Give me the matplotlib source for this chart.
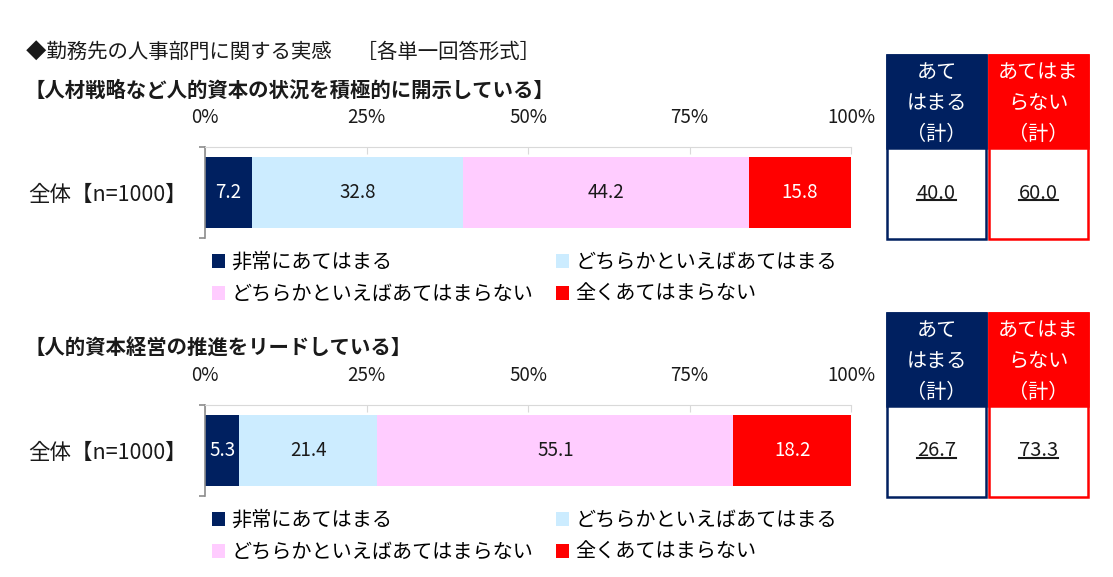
import matplotlib
matplotlib.use('Agg')
import matplotlib.pyplot as plt
from matplotlib.patches import Rectangle, Patch

plt.rcParams['font.family'] = ['Noto Sans CJK JP', 'DejaVu Sans']

W, H = 1113, 577

title = '◆勤務先の人事部門に関する実感　 ［各単一回答形式］'
questions = ['【人材戦略など人的資本の状況を積極的に開示している】',
             '【人的資本経営の推進をリードしている】']
category = '全体【n=1000】'
series_labels = ['非常にあてはまる', 'どちらかといえばあてはまる',
                 'どちらかといえばあてはまらない', '全くあてはまらない']
colors = ['#002060', '#CCECFF', '#FFCCFF', '#FF0000']
text_colors = ['white', '#1a1a1a', '#1a1a1a', 'white']
q1_values = [7.2, 32.8, 44.2, 15.8]
q2_values = [5.3, 21.4, 55.1, 18.2]
ticks = [0, 25, 50, 75, 100]
tick_labels = ['0%', '25%', '50%', '75%', '100%']
box_headers = [['あて', 'はまる', '（計）'], ['あてはま', 'らない', '（計）']]
box_colors = ['#002060', '#FF0000']


def fx(x):
    return x / W


def fy(y):
    return 1 - y / H


fig = plt.figure(figsize=(W / 100, H / 100), dpi=100)

fig.text(fx(26), fy(52), title, fontsize=14.7, va='center', ha='left', color='#1a1a1a')

underlines = []
for i, vals in enumerate([q1_values, q2_values]):
    off = i * 258
    fig.text(fx(25), fy(90 + off), questions[i], fontsize=14.7, fontweight='bold',
             va='center', ha='left', color='#1a1a1a')

    ax = fig.add_axes([fx(205), fy(238 + off), 646 / W, 91 / H])
    left = 0
    for v, c, tc in zip(vals, colors, text_colors):
        ax.barh(0, v, left=left, height=71 / 91, color=c)
        ax.text(left + v / 2, 0, f'{v:.1f}', ha='center', va='center',
                fontsize=13.5, color=tc)
        left += v
    ax.set_xlim(0, 100)
    ax.set_ylim(-0.5, 0.5)
    ax.xaxis.tick_top()
    ax.set_xticks(ticks)
    ax.set_xticklabels(tick_labels)
    ax.tick_params(axis='x', direction='in', length=5, color='#D9D9D9',
                   labelsize=13.5, pad=14, labelcolor='#1a1a1a')
    ax.set_yticks([0])
    ax.set_yticklabels([category])
    ax.tick_params(axis='y', length=0, labelsize=15.5, pad=13, labelcolor='#1a1a1a')
    ax.set_yticks([-0.5, 0.5], minor=True)
    ax.tick_params(axis='y', which='minor', direction='out', length=4.5,
                   color='#8C8C8C', width=1.2)
    for s in ['bottom', 'right']:
        ax.spines[s].set_visible(False)
    ax.spines['top'].set_color('#D9D9D9')
    ax.spines['left'].set_color('#8C8C8C')
    ax.spines['left'].set_linewidth(1.2)

    handles = [Patch(facecolor=c) for c in colors]
    order = [0, 2, 1, 3]
    ax.legend([handles[k] for k in order], [series_labels[k] for k in order],
              ncol=2, loc='upper left', bbox_to_anchor=(fx(212), fy(252 + off)),
              bbox_transform=fig.transFigure, frameon=False, fontsize=14.5,
              handlelength=0.65, handleheight=0.65, handletextpad=0.3,
              columnspacing=1.15, labelspacing=0.55, borderpad=0, borderaxespad=0)

    # summary boxes on the right
    totals = [vals[0] + vals[1], vals[2] + vals[3]]
    for j in range(2):
        x0 = 887 + j * 102
        top, mid, bot = 55 + off, 148 + off, 239 + off
        fig.add_artist(Rectangle((fx(x0), fy(bot)), 99 / W, (bot - top) / H,
                                 transform=fig.transFigure, facecolor='white',
                                 edgecolor=box_colors[j], linewidth=1.8))
        fig.add_artist(Rectangle((fx(x0), fy(mid)), 99 / W, (mid - top) / H,
                                 transform=fig.transFigure, facecolor=box_colors[j],
                                 edgecolor=box_colors[j], linewidth=1.8))
        for k, line in enumerate(box_headers[j]):
            fig.text(fx(x0 + 49.5), fy(72 + off + k * 31.5), line, ha='center',
                     va='center', fontsize=14.5, color='white')
        t = fig.text(fx(x0 + 49.5), fy(193 + off), f'{totals[j]:.1f}', ha='center',
                     va='center', fontsize=14.5, color='#1a1a1a')
        underlines.append(t)

fig.canvas.draw()
renderer = fig.canvas.get_renderer()
for t in underlines:
    bb = t.get_window_extent(renderer)
    y = bb.y0 + 4
    fig.add_artist(plt.Line2D([bb.x0 / W, bb.x1 / W], [y / H, y / H],
                              transform=fig.transFigure, color='#1a1a1a', lw=1.5))

fig.savefig('out.png', dpi=100)
